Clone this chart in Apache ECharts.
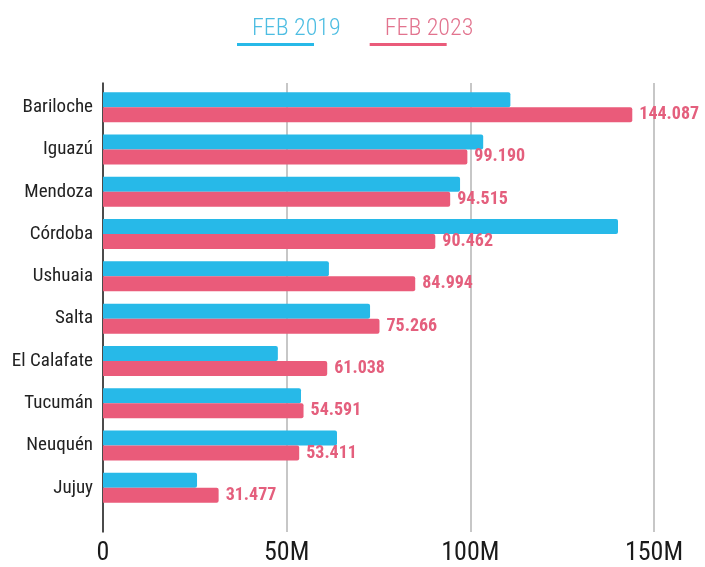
<!DOCTYPE html>
<html>
<head>
<meta charset="utf-8">
<script src="https://cdn.jsdelivr.net/npm/echarts@6/dist/echarts.min.js"></script>
<style>
  html, body { margin: 0; padding: 0; background: #fff; }
  #chart { width: 705px; height: 567px; }
</style>
</head>
<body>
<div id="chart"></div>
<script>
const categories = ["Bariloche", "Iguazú", "Mendoza", "Córdoba", "Ushuaia", "Salta", "El Calafate", "Tucumán", "Neuquén", "Jujuy"];
const feb2019 = [110.9, 103.5, 97.2, 140.2, 61.5, 72.7, 47.6, 53.9, 63.7, 25.6];
const feb2023 = [144.087, 99.19, 94.515, 90.462, 84.994, 75.266, 61.038, 54.591, 53.411, 31.477];
const xTicks = [0, 50, 100, 150];

const FONT = "'Roboto Condensed', 'Liberation Sans Narrow', 'DejaVu Sans Condensed', Roboto, sans-serif";
const CYAN = "#27b9e8";
const PINK = "#ea5b7a";

const chart = echarts.init(document.getElementById("chart"));

chart.setOption({
  animation: false,
  textStyle: { fontFamily: FONT },
  legend: {
    top: 12,
    left: 227,
    itemWidth: 0,
    itemHeight: 0,
    itemGap: 24,
    data: ["FEB 2019", "FEB 2023"],
    formatter: function (name) {
      return name === "FEB 2019" ? "{a|" + name + "}\n{ua|}" : "{b|" + name + "}\n{ub|}";
    },
    textStyle: {
      rich: {
        a: { color: "#4dbde2", fontSize: 24, fontFamily: FONT, fontWeight: 300, padding: [0, 0, 0, 15], lineHeight: 28 },
        b: { color: "#e2738e", fontSize: 24, fontFamily: FONT, fontWeight: 300, padding: [0, 0, 0, 15], lineHeight: 28 },
        ua: { width: 77, height: 3, backgroundColor: CYAN },
        ub: { width: 77, height: 3, backgroundColor: PINK }
      }
    }
  },
  grid: [
    // frame: axis line, gridlines, tick labels
    { left: 103, right: 51, top: 83, bottom: 35 },
    // bars
    { left: 103, right: 51, top: 86, bottom: 58 }
  ],
  xAxis: [
    {
      gridIndex: 0,
      type: "value",
      min: xTicks[0],
      max: xTicks[xTicks.length - 1],
      interval: 50,
      axisLine: { show: false },
      axisTick: { show: false },
      splitLine: { show: true, lineStyle: { color: "#b5b5b5", width: 1.5 } },
      axisLabel: {
        margin: 8,
        fontSize: 26,
        color: "#1a1a1a",
        fontFamily: FONT,
        formatter: function (v) { return v === 0 ? "0" : v + "M"; }
      }
    },
    {
      gridIndex: 1,
      type: "value",
      min: xTicks[0],
      max: xTicks[xTicks.length - 1],
      show: false
    }
  ],
  yAxis: [
    {
      gridIndex: 0,
      type: "value",
      min: 0,
      max: 1,
      axisLine: { show: true, lineStyle: { color: "#222", width: 1.5 } },
      axisTick: { show: false },
      axisLabel: { show: false },
      splitLine: { show: false }
    },
    {
      gridIndex: 1,
      type: "category",
      inverse: true,
      data: categories,
      axisLine: { show: false },
      axisTick: { show: false },
      axisLabel: { margin: 10, fontSize: 19, color: "#222", fontFamily: FONT }
    }
  ],
  series: [
    {
      name: "FEB 2019",
      type: "bar",
      xAxisIndex: 1,
      yAxisIndex: 1,
      data: feb2019,
      barWidth: 15,
      barGap: "0%",
      itemStyle: { color: CYAN, borderRadius: [0, 2, 2, 0] }
    },
    {
      name: "FEB 2023",
      type: "bar",
      xAxisIndex: 1,
      yAxisIndex: 1,
      data: feb2023,
      barWidth: 15,
      itemStyle: { color: PINK, borderRadius: [0, 2, 2, 0] },
      label: {
        show: true,
        position: "right",
        distance: 7,
        color: "#e45f7d",
        fontSize: 18,
        fontWeight: "bold",
        fontFamily: FONT,
        formatter: function (p) { return p.value.toFixed(3); }
      }
    }
  ]
});
</script>
</body>
</html>
